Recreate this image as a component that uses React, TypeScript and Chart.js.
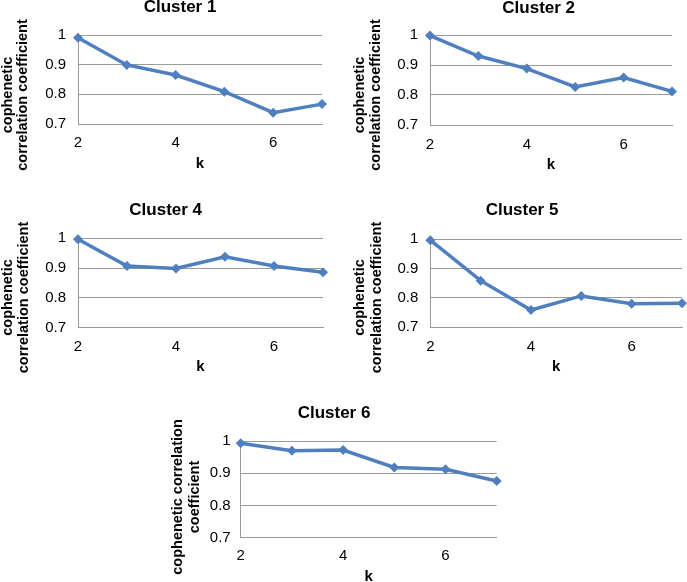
import React, { useEffect, useRef } from "react";
import { Chart, registerables } from "chart.js";

Chart.register(...registerables);

// ---- data ----
const kValues = [2, 3, 4, 5, 6, 7];
const cluster1 = [0.991, 0.899, 0.865, 0.809, 0.738, 0.767];
const cluster2 = [0.998, 0.93, 0.888, 0.827, 0.858, 0.812];
const cluster4 = [0.997, 0.907, 0.899, 0.938, 0.907, 0.886];
const cluster5 = [0.997, 0.859, 0.759, 0.807, 0.78, 0.782];
const cluster6 = [0.993, 0.97, 0.972, 0.918, 0.912, 0.876];
const xTickValues = [2, 4, 6];
const yTickValues = [0.7, 0.8, 0.9, 1];
const xAxisTitle = "k";
const yTitleTwoLines = ["cophenetic", "correlation coefficient"];
const yTitleWide = ["cophenetic correlation", "coefficient"];

const FONT = '"Liberation Sans", Arial, sans-serif';
const LINE = "#4F7FBF";
const GRID = "#9A9A9A";

type Panel = {
  title: string;
  values: number[];
  yLines: string[];
  left: number; top: number; w: number; h: number;
  plotLeft: number; plotTop: number; pr: number; hx: number;
  tx: number; ty: number;
  yPad: number; xPad: number;
  xs: number[]; cy: number;
};

const panels: Panel[] = [
  { title: "Cluster 1", values: cluster1, yLines: yTitleTwoLines, left: 0, top: 0, w: 335, h: 171, plotLeft: 78, plotTop: 35, pr: 13, hx: 47, tx: 180, ty: 7.5, yPad: 12, xPad: 10, xs: [8.3, 23.3], cy: 95 },
  { title: "Cluster 2", values: cluster2, yLines: yTitleTwoLines, left: 343, top: 0, w: 344, h: 172, plotLeft: 87, plotTop: 35, pr: 15, hx: 47, tx: 195.7, ty: 8.5, yPad: 12, xPad: 10.5, xs: [16.7, 33.3], cy: 95 },
  { title: "Cluster 4", values: cluster4, yLines: yTitleTwoLines, left: 0, top: 190, w: 335, h: 184, plotLeft: 78, plotTop: 48.3, pr: 12, hx: 46.3, tx: 165.7, ty: 20.8, yPad: 12, xPad: 10, xs: [8.3, 24], cy: 107.5 },
  { title: "Cluster 5", values: cluster5, yLines: yTitleTwoLines, left: 343, top: 190, w: 344, h: 184, plotLeft: 87.3, plotTop: 49.3, pr: 5, hx: 46.7, tx: 179, ty: 20.8, yPad: 12, xPad: 10.4, xs: [17.3, 34.3], cy: 107.5 },
  { title: "Cluster 6", values: cluster6, yLines: yTitleWide, left: 160, top: 380, w: 370, h: 204, plotLeft: 80.7, plotTop: 61, pr: 33.3, hx: 46.3, tx: 174, ty: 33.8, yPad: 10, xPad: 9.3, xs: [18.3, 35], cy: 117 },
];

function PanelChart({ p }: { p: Panel }) {
  const ref = useRef<HTMLCanvasElement | null>(null);
  useEffect(() => {
    if (!ref.current) return;
    const textPlugin = {
      id: "panelTexts",
      afterDraw(chart: any) {
        const ctx = chart.ctx;
        ctx.save();
        ctx.fillStyle = "#000";
        ctx.textAlign = "center";
        ctx.textBaseline = "middle";
        // chart title
        ctx.font = `bold 17px ${FONT}`;
        ctx.fillText(p.title, p.tx, p.ty);
        // y-axis title (rotated)
        ctx.font = `bold 14.5px ${FONT}`;
        p.yLines.forEach((line, i) => {
          ctx.save();
          ctx.translate(p.xs[i], p.cy);
          ctx.rotate(-Math.PI / 2);
          ctx.fillText(line, 0, 0);
          ctx.restore();
        });
        ctx.restore();
      },
    };
    const chart = new Chart(ref.current, {
      type: "line",
      data: {
        datasets: [
          {
            label: p.title,
            data: kValues.map((k, i) => ({ x: k, y: p.values[i] })),
            borderColor: LINE,
            backgroundColor: LINE,
            borderWidth: 3.5,
            pointStyle: "rectRot",
            pointRadius: 5,
            pointBackgroundColor: LINE,
            pointBorderColor: LINE,
            pointBorderWidth: 0,
            tension: 0,
            clip: false as any,
          },
        ],
      },
      options: {
        animation: false,
        responsive: false,
        maintainAspectRatio: false,
        devicePixelRatio: 1,
        layout: { padding: { left: 0, right: p.pr, top: p.plotTop, bottom: 0 } },
        plugins: {
          legend: { display: false },
          tooltip: { enabled: false },
          title: { display: false },
        },
        scales: {
          x: {
            type: "linear",
            min: 2,
            max: 7,
            afterBuildTicks: (s: any) => {
              s.ticks = xTickValues.map((v) => ({ value: v }));
            },
            afterFit: (s: any) => {
              s.height = p.hx;
            },
            grid: { display: false, drawTicks: false },
            border: { display: true, color: GRID, width: 1 },
            ticks: {
              padding: p.xPad,
              color: "#000",
              font: { family: FONT, size: 15, lineHeight: 1.2 },
              callback: (v: any) => String(v),
            },
            title: {
              display: true,
              text: xAxisTitle,
              color: "#000",
              font: { family: FONT, size: 15, weight: "bold", lineHeight: 1 },
              padding: { top: 0, bottom: 0 },
            },
          },
          y: {
            type: "linear",
            min: 0.7,
            max: 1,
            afterBuildTicks: (s: any) => {
              s.ticks = yTickValues.map((v) => ({ value: v }));
            },
            afterFit: (s: any) => {
              s.width = p.plotLeft;
            },
            grid: { color: GRID, lineWidth: 1, drawTicks: false },
            border: { display: true, color: GRID, width: 1 },
            ticks: {
              padding: p.yPad,
              color: "#000",
              font: { family: FONT, size: 15, lineHeight: 1.2 },
              callback: (v: any) => String(Number(Number(v).toFixed(1))),
            },
          },
        },
      } as any,
      plugins: [textPlugin],
    });
    return () => chart.destroy();
  }, [p]);
  return (
    <canvas
      ref={ref}
      width={p.w}
      height={p.h}
      style={{ position: "absolute", left: p.left, top: p.top, width: p.w, height: p.h }}
    />
  );
}

export default function App() {
  return (
    <div
      style={{
        position: "absolute",
        left: 0,
        top: 0,
        width: 687,
        height: 582,
        overflow: "hidden",
        background: "#fff",
      }}
    >
      {panels.map((p) => (
        <PanelChart key={p.title} p={p} />
      ))}
    </div>
  );
}
